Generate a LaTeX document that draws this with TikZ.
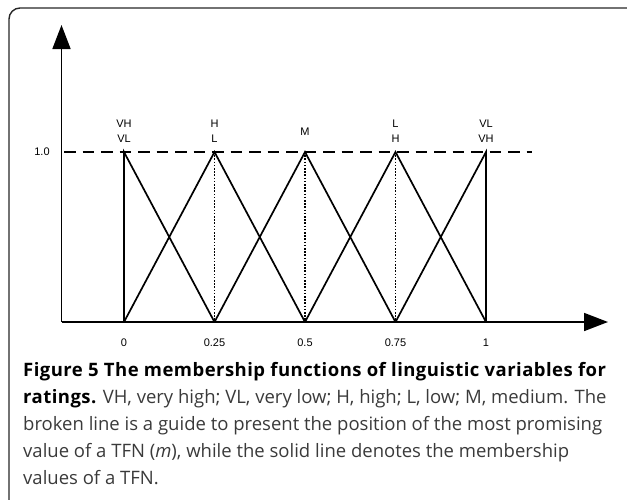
\documentclass[tikz,border=0pt]{standalone}
\usepackage{fontspec}
\setmainfont{Open Sans}
\newfontfamily\capbold{Open Sans}[LetterSpace=2.5]
\newfontfamily\chartfont{Liberation Sans}
\usetikzlibrary{arrows.meta}
\definecolor{captxt}{HTML}{3A3A3A}
\begin{document}
\begin{tikzpicture}[x=1pt,y=-1pt,
  axis/.style={line width=1.7pt,-{Triangle[length=24pt,width=18pt]}},
  mf/.style={line width=1.7pt,line join=miter},
  guide/.style={line width=1.7pt,dash pattern=on 11.5pt off 7pt},
  drop/.style={line width=1.2pt,dash pattern=on 1.6pt off 1.6pt},
  lbl/.style={font=\chartfont\fontsize{11}{12}\selectfont,inner sep=0pt},
  captext/.style={anchor=base west,inner sep=0pt,font=\fontsize{18.5}{20}\selectfont,text=captxt},
  frame/.style={line width=1.4pt,rounded corners=11pt,draw=black!85}]
\useasboundingbox (0,0) rectangle (627,499);
\clip (0,0) rectangle (627,499);
\draw[frame] (9,8) rectangle (640,512);
% origin and axes
\coordinate (O) at (61.5,322);
\coordinate (ytop) at (61.5,25);
\coordinate (xend) at (608,322);
\draw[axis] (O) -- (ytop);
\draw[axis] (O) -- (xend);
% key points
\foreach \n/\x in {a/124,b/214.5,c/305,d/395.5,e/486}{
  \coordinate (\n b) at (\x,322);
  \coordinate (\n t) at (\x,152);
}
\coordinate (gstart) at (64,152);
\coordinate (gend) at (532,152);
\draw[guide] (gstart) -- (gend);
% membership functions
\draw[mf] (ab) -- (at) -- (bb);
\draw[mf] (ab) -- (bt) -- (cb);
\draw[mf] (bb) -- (ct) -- (db);
\draw[mf] (cb) -- (dt) -- (eb);
\draw[mf] (db) -- (et) -- (eb);
\draw[drop] (bt) -- (bb);
\draw[drop] (ct) -- (cb);
\draw[drop] (dt) -- (db);
% labels
\node[lbl] (one) at (42,152) {1.0};
\node[lbl] (t0) at (124,343) {0};
\node[lbl] (t1) at (214.5,343) {0.25};
\node[lbl] (t2) at (305,343) {0.5};
\node[lbl] (t3) at (395.5,343) {0.75};
\node[lbl] (t4) at (486,343) {1};
\node[lbl] (la1) at (124,124) {VH};
\node[lbl] (la2) at (124,139) {VL};
\node[lbl] (lb1) at (214.5,124) {H};
\node[lbl] (lb2) at (214.5,139) {L};
\node[lbl] (lc) at (305,132) {M};
\node[lbl] (ld1) at (395.5,124) {L};
\node[lbl] (ld2) at (395.5,139) {H};
\node[lbl] (le1) at (486,124) {VL};
\node[lbl] (le2) at (486,139) {VH};
% caption
\node[captext] (c1) at (23,376) {{\capbold\bfseries\color{black}Figure 5 The membership functions of linguistic variables for}};
\node[captext] (c2) at (23,403) {{\capbold\bfseries\color{black}ratings.} VH, very high; VL, very low; H, high; L, low; M, medium. The};
\node[captext] (c3) at (23,430) {broken line is a guide to present the position of the most promising};
\node[captext] (c4) at (23,457) {value of a TFN (\textit{m}), while the solid line denotes the membership};
\node[captext] (c5) at (23,484) {values of a TFN.};
\end{tikzpicture}
\end{document}
